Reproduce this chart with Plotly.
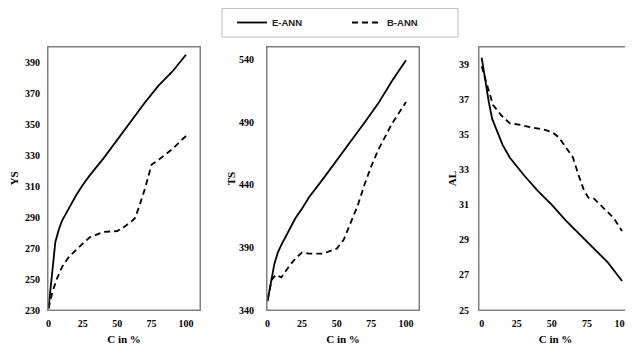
import plotly.graph_objects as go

# ---------------- data ----------------
ys_e_x = [0, 2.5, 5, 7.5, 10, 15, 20, 25, 30, 40, 50, 60, 70, 80, 90, 100]
ys_e_y = [231, 252, 274, 282, 288, 296, 304, 311, 317, 328, 340, 352, 364, 375, 384, 395]
ys_b_x = [0, 3, 6, 10, 15, 20, 25, 30, 40, 50, 55, 60, 63, 66, 70, 75, 80, 90, 100]
ys_b_y = [231, 242, 250, 258, 264.5, 269, 273, 277, 280.5, 281, 283.7, 287, 289.5, 297, 308, 324, 327, 334, 342.5]

ts_e_x = [0, 2, 5, 7.5, 10, 15, 20, 25, 30, 40, 50, 60, 70, 80, 90, 100]
ts_e_y = [347, 360, 377, 386, 392, 402.5, 413, 421, 430, 444.5, 460, 474.5, 489.5, 505, 523, 539.5]
ts_b_x = [0, 3, 6, 10, 15, 20, 25, 30, 40, 45, 50, 55, 60, 65, 70, 75, 80, 90, 100]
ts_b_y = [348, 364, 368, 366, 374, 381, 386, 385, 385, 387, 389, 396, 409, 423, 440, 455, 468, 489, 506]

al_e_x = [0, 2.5, 5, 7.5, 10, 15, 20, 25, 30, 40, 50, 60, 70, 80, 90, 100]
al_e_y = [39.4, 38.0, 36.9, 35.9, 35.4, 34.4, 33.7, 33.2, 32.7, 31.8, 31.0, 30.1, 29.3, 28.5, 27.7, 26.65]
al_b_x = [0, 4, 8, 14, 20, 28, 36, 44, 50, 55, 60, 65, 69, 73, 76, 80, 87, 94, 100]
al_b_y = [38.9, 37.8, 36.7, 36.1, 35.65, 35.55, 35.4, 35.3, 35.15, 34.85, 34.3, 33.7, 32.7, 31.8, 31.4, 31.35, 30.8, 30.25, 29.5]

x_ticks = [0, 25, 50, 75, 100]
ys_ticks = [230, 250, 270, 290, 310, 330, 350, 370, 390]
ts_ticks = [340, 390, 440, 490, 540]
al_ticks = [25, 27, 29, 31, 33, 35, 37, 39]

series_names = ["E-ANN", "B-ANN"]
y_titles = ["YS", "TS", "AL"]
x_title = "C in %"

# ---------------- figure ----------------
# the page body has an 8px margin, so the figure is drawn at (8, 8)
OFF = 8
W, H = 633 - OFF, 348 - OFF
fig = go.Figure()

panels = [
    (ys_e_x, ys_e_y, ys_b_x, ys_b_y),
    (ts_e_x, ts_e_y, ts_b_x, ts_b_y),
    (al_e_x, al_e_y, al_b_x, al_b_y),
]
for i, (ex, ey, bx, by) in enumerate(panels):
    sfx = "" if i == 0 else str(i + 1)
    fig.add_trace(go.Scatter(x=ex, y=ey, mode="lines", name=series_names[0],
                             line=dict(color="black", width=1.8),
                             xaxis="x" + sfx, yaxis="y" + sfx,
                             showlegend=(i == 0), legendgroup="e"))
    fig.add_trace(go.Scatter(x=bx, y=by, mode="lines", name=series_names[1],
                             line=dict(color="black", width=1.8, dash="6px,4px"),
                             xaxis="x" + sfx, yaxis="y" + sfx,
                             showlegend=(i == 0), legendgroup="b"))

tickfont = dict(family="Liberation Serif", size=10, color="black", weight="bold")
titlefont = dict(family="Liberation Serif", size=11, color="black", weight="bold")

def pxx(v):
    return (v - OFF) / W

def pxy(v):
    return 1 - (v - OFF) / H

ydom = [pxy(310), pxy(47)]
xdoms = [[pxx(48), pxx(200)], [pxx(267), pxx(419)], [pxx(479), pxx(632)]]
xranges = [[-0.36, 110.2], [-0.36, 109.4], [-1.9, 107.1]]
yranges = [[230, 400], [340, 550], [25, 40]]
yticks = [ys_ticks, ts_ticks, al_ticks]
ylabel_standoff = [5, 10, 7]
ytitle_standoff = [4, 1, 0]

axcommon = dict(showgrid=False, zeroline=False, showline=True, mirror=True,
                linecolor="#808080", linewidth=1, ticks="", tickfont=tickfont,
                fixedrange=True)

shapes = [dict(type="rect", xref="paper", yref="paper",
               x0=pxx(222), x1=pxx(458), y0=pxy(37), y1=1 - 0.5 / H,
               line=dict(color="#bfbfbf", width=1), fillcolor="rgba(0,0,0,0)", layer="below")]

layout = dict(
    width=W, height=H,
    margin=dict(l=0, r=0, t=0, b=0, autoexpand=False),
    paper_bgcolor="white", plot_bgcolor="white",
    showlegend=True,
    legend=dict(orientation="h", x=pxx(232), y=pxy(22.5), xanchor="left", yanchor="middle",
                bgcolor="rgba(0,0,0,0)", borderwidth=0,
                font=dict(family="Liberation Sans", size=9.5, color="#222222", weight="bold"),
                entrywidth=70, entrywidthmode="pixels"),
)
for i in range(3):
    sfx = "" if i == 0 else str(i + 1)
    layout["xaxis" + sfx] = dict(axcommon, domain=xdoms[i], range=xranges[i],
                                 tickvals=x_ticks, anchor="y" + sfx,
                                 ticklabelstandoff=4,
                                 title=dict(text=x_title, font=titlefont, standoff=7))
    layout["yaxis" + sfx] = dict(axcommon, domain=ydom, range=yranges[i],
                                 tickvals=yticks[i], anchor="x" + sfx,
                                 ticklabelstandoff=ylabel_standoff[i],
                                 title=dict(text=y_titles[i], font=titlefont,
                                            standoff=ytitle_standoff[i]))
    shapes.append(dict(type="rect", xref="x" + sfx + " domain", yref="y" + sfx + " domain",
                       x0=0, x1=1, y0=0, y1=1,
                       line=dict(color="#808080", width=1), fillcolor="rgba(0,0,0,0)"))

layout["shapes"] = shapes
fig.update_layout(**layout)
fig.write_html("out.html")
